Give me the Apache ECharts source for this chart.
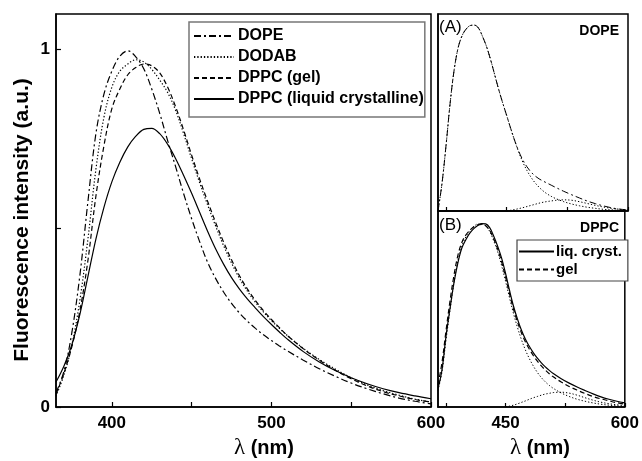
<!DOCTYPE html>
<html>
<head>
<meta charset="utf-8">
<script src="https://cdn.jsdelivr.net/npm/echarts@6/dist/echarts.min.js"></script>
<style>
  html, body { margin: 0; padding: 0; background: #fff; }
  #chart { width: 642px; height: 461px; }
</style>
</head>
<body>
<div id="chart"></div>
<script>
// wavelength grid (nm) shared by every curve
var wl = [365,370,375,380,385,390,395,400,405,410,415,420,425,430,435,440,445,450,455,460,
          465,470,475,480,485,490,495,500,505,510,520,530,540,550,560,570,580,590,600];

// main panel, normalised intensities
var dope  = [0.04,0.10,0.21,0.37,0.575,0.765,0.875,0.94,0.982,0.997,0.98,0.947,0.89,0.822,0.745,0.672,0.597,0.527,0.463,0.405,
             0.36,0.322,0.29,0.263,0.24,0.22,0.202,0.186,0.171,0.157,0.131,0.107,0.086,0.067,0.051,0.037,0.025,0.016,0.009];
var dodab = [0.03,0.09,0.175,0.30,0.47,0.665,0.81,0.895,0.94,0.96,0.972,0.966,0.945,0.915,0.88,0.83,0.765,0.695,0.628,0.566,
             0.507,0.452,0.403,0.36,0.324,0.293,0.266,0.242,0.22,0.2,0.164,0.133,0.106,0.082,0.062,0.046,0.033,0.022,0.014];
var dppcGel = [0.035,0.095,0.17,0.27,0.41,0.59,0.73,0.835,0.89,0.93,0.95,0.96,0.955,0.935,0.895,0.84,0.775,0.705,0.638,0.576,
               0.517,0.462,0.412,0.367,0.33,0.298,0.27,0.245,0.222,0.2,0.163,0.131,0.103,0.079,0.059,0.043,0.031,0.021,0.014];
var dppcLiq = [0.07,0.115,0.175,0.26,0.365,0.47,0.558,0.63,0.685,0.728,0.758,0.777,0.78,0.765,0.735,0.695,0.648,0.598,0.545,0.492,
               0.443,0.4,0.362,0.33,0.302,0.277,0.253,0.231,0.21,0.19,0.155,0.126,0.102,0.082,0.065,0.051,0.04,0.031,0.023];

// panel A (DOPE) : spectrum and two fitted components
var expA  = [0.0,0.15,0.355,0.58,0.76,0.88,0.945,0.98,0.998,1.0,0.985,0.94,0.885,0.815,0.735,0.655,0.582,0.513,0.443,0.377,
             0.32,0.274,0.238,0.21,0.189,0.173,0.161,0.15,0.139,0.128,0.107,0.088,0.07,0.053,0.039,0.027,0.017,0.01,0.006];
var fitA1 = [0.0,0.15,0.355,0.58,0.76,0.88,0.945,0.98,0.998,1.0,0.985,0.94,0.885,0.815,0.735,0.655,0.582,0.513,0.443,0.377,
             0.315,0.262,0.218,0.182,0.152,0.128,0.108,0.092,0.079,0.068,0.051,0.038,0.028,0.02,0.014,0.009,0.006,0.004,0.002];
var fitA2 = [null,null,null,null,null,null,null,null,null,null,null,null,null,null,null,null,null,0,0.004,0.008,
             0.013,0.018,0.024,0.03,0.036,0.042,0.047,0.051,0.054,0.057,0.06,0.058,0.05,0.04,0.03,0.021,0.014,0.009,0.005];

// panel B (DPPC)
var liqB  = [0.10,0.20,0.38,0.53,0.67,0.78,0.86,0.905,0.94,0.965,0.982,0.992,0.99,0.97,0.925,0.87,0.805,0.722,0.63,0.545,
             0.475,0.415,0.367,0.327,0.293,0.264,0.239,0.217,0.198,0.181,0.153,0.129,0.108,0.089,0.071,0.055,0.042,0.031,0.022];
var gelB  = [0.12,0.24,0.41,0.57,0.71,0.82,0.89,0.93,0.955,0.975,0.985,0.988,0.98,0.955,0.91,0.855,0.785,0.702,0.612,0.528,
             0.46,0.4,0.352,0.312,0.278,0.248,0.222,0.2,0.18,0.163,0.135,0.111,0.091,0.073,0.057,0.044,0.033,0.023,0.016];
var fitB1 = [0.09,0.19,0.36,0.52,0.67,0.79,0.87,0.92,0.955,0.975,0.99,0.99,0.98,0.95,0.90,0.84,0.765,0.68,0.59,0.505,
             0.43,0.364,0.308,0.261,0.221,0.187,0.159,0.136,0.117,0.101,0.076,0.057,0.042,0.031,0.022,0.015,0.01,0.006,0.004];
var fitB2 = [null,null,null,null,null,null,null,null,null,null,null,null,null,null,null,null,null,0,0.005,0.01,
             0.017,0.025,0.033,0.042,0.05,0.057,0.064,0.07,0.074,0.078,0.08,0.075,0.064,0.05,0.037,0.026,0.018,0.012,0.008];

var mainTicks = [400,450,500,550,600];
var mainLabels = [400,500,600];
var sideTicks = [375,450,525,600];
var sideLabels = [450,600];
var yTicks = [0,0.5,1];
var yLabels = [0,1];

var font = "'Liberation Sans', Arial, sans-serif";
var serif = "'Liberation Serif', 'DejaVu Serif', serif";

function pts(arr){
    var out = [];
    for (var i = 0; i < wl.length; i++) {
        out.push([wl[i], arr[i] == null ? '-' : arr[i]]);
    }
    return out;
}

function line(name, arr, grid, dash, width){
    return {
        name: name,
        type: 'line',
        xAxisIndex: grid,
        yAxisIndex: grid,
        data: pts(arr),
        symbol: 'none',
        smooth: 0.35,
        silent: true,
        itemStyle: { color: '#000' },
        lineStyle: { color: '#000', width: width || 1.2, type: dash }
    };
}

var axisLine = { lineStyle: { color: '#000', width: 1.5 } };
var lbl = { color: '#000', fontSize: 17, fontWeight: 'bold', fontFamily: font };

var dashDot = [7, 3, 2, 3];
var dotted = [1.3, 2];
var dashed = [5, 3];

var myChart = echarts.init(document.getElementById('chart'));
var option = {
    backgroundColor: '#fff',
    animation: false,
    grid: [
        { left: 56, top: 14, width: 375, height: 393, show: true, borderColor: '#000', borderWidth: 1.5 },
        { left: 438, top: 14, width: 190, height: 197, show: true, borderColor: '#000', borderWidth: 1.5 },
        { left: 438, top: 211, width: 190, height: 196, show: true, borderColor: '#000', borderWidth: 1.5 }
    ],
    xAxis: [
        {
            gridIndex: 0, type: 'value', min: 365, max: 600,
            axisLine: axisLine,
            axisTick: { inside: true, length: 5, customValues: mainTicks, lineStyle: { color: '#000', width: 1.2 } },
            axisLabel: Object.assign({ customValues: mainLabels, margin: 8 }, lbl),
            splitLine: { show: false }
        },
        {
            gridIndex: 1, type: 'value', min: 365, max: 600,
            axisLine: axisLine,
            axisTick: { inside: true, length: 4, customValues: sideTicks, lineStyle: { color: '#000', width: 1.2 } },
            axisLabel: { show: false },
            splitLine: { show: false }
        },
        {
            gridIndex: 2, type: 'value', min: 365, max: 600,
            axisLine: axisLine,
            axisTick: { inside: true, length: 4, customValues: sideTicks, lineStyle: { color: '#000', width: 1.2 } },
            axisLabel: Object.assign({ customValues: sideLabels, margin: 8 }, lbl),
            splitLine: { show: false }
        }
    ],
    yAxis: [
        {
            gridIndex: 0, type: 'value', min: 0, max: 1.1,
            axisLine: axisLine,
            axisTick: { inside: true, length: 5, customValues: yTicks, lineStyle: { color: '#000', width: 1.2 } },
            axisLabel: Object.assign({ customValues: yLabels, margin: 6 }, lbl),
            splitLine: { show: false }
        },
        {
            gridIndex: 1, type: 'value', min: 0, max: 1.06,
            axisLine: axisLine, axisTick: { show: false }, axisLabel: { show: false },
            splitLine: { show: false }
        },
        {
            gridIndex: 2, type: 'value', min: 0, max: 1.06,
            axisLine: axisLine, axisTick: { show: false }, axisLabel: { show: false },
            splitLine: { show: false }
        }
    ],
    legend: [
        {
            data: ['DOPE', 'DODAB', 'DPPC (gel)', 'DPPC (liquid crystalline)'],
            orient: 'vertical',
            left: 189, top: 22,
            padding: [6, 1, 10, 4],
            itemWidth: 40, itemHeight: 16, itemGap: 5,
            borderColor: '#777', borderWidth: 1.5,
            backgroundColor: '#fff',
            selectedMode: false,
            itemStyle: { opacity: 0 },
            textStyle: { color: '#000', fontSize: 16, fontWeight: 'bold', fontFamily: font, lineHeight: 16, padding: [0, 0, 0, -1] }
        },
        {
            data: ['liq. cryst.', 'gel'],
            orient: 'vertical',
            left: 517, top: 240,
            padding: [4, 6, 4, 1],
            itemWidth: 35, itemHeight: 15, itemGap: 3,
            borderColor: '#444', borderWidth: 1.2,
            backgroundColor: '#fff',
            selectedMode: false,
            itemStyle: { opacity: 0 },
            textStyle: { color: '#000', fontSize: 15, fontWeight: 'bold', fontFamily: font, lineHeight: 15, padding: [0, 0, 0, -3] }
        }
    ],
    graphic: [
        { type: 'text', x: 22, y: 220, rotation: Math.PI / 2,
          style: { text: 'Fluorescence intensity (a.u.)', fill: '#000', font: 'bold 21px ' + font, textAlign: 'center', textVerticalAlign: 'middle' } },
        { type: 'text', x: 264, y: 448,
          style: { text: '{l|λ}{t| (nm)}', fill: '#000', textAlign: 'center', textVerticalAlign: 'middle',
                   rich: { l: { font: '23px ' + serif }, t: { font: 'bold 20px ' + font } } } },
        { type: 'text', x: 540, y: 448,
          style: { text: '{l|λ}{t| (nm)}', fill: '#000', textAlign: 'center', textVerticalAlign: 'middle',
                   rich: { l: { font: '23px ' + serif }, t: { font: 'bold 20px ' + font } } } },
        { type: 'text', x: 439, y: 27, style: { text: '(A)', fill: '#000', font: '17px ' + font, textVerticalAlign: 'middle' } },
        { type: 'text', x: 439, y: 225, style: { text: '(B)', fill: '#000', font: '17px ' + font, textVerticalAlign: 'middle' } },
        { type: 'text', x: 619, y: 31, style: { text: 'DOPE', fill: '#000', font: 'bold 14px ' + font, textAlign: 'right', textVerticalAlign: 'middle' } },
        { type: 'text', x: 619, y: 228, style: { text: 'DPPC', fill: '#000', font: 'bold 14px ' + font, textAlign: 'right', textVerticalAlign: 'middle' } }
    ],
    series: [
        line('DOPE', dope, 0, dashDot),
        line('DODAB', dodab, 0, dotted),
        line('DPPC (gel)', dppcGel, 0, dashed),
        line('DPPC (liquid crystalline)', dppcLiq, 0, 'solid'),
        line('DOPE spectrum', expA, 1, dashDot, 1),
        line('DOPE band 1', fitA1, 1, dotted, 1),
        line('DOPE band 2', fitA2, 1, dotted, 1),
        line('liq. cryst.', liqB, 2, 'solid', 1.2),
        line('gel', gelB, 2, dashed, 1.2),
        line('DPPC band 1', fitB1, 2, dotted, 1),
        line('DPPC band 2', fitB2, 2, dotted, 1)
    ]
};
myChart.setOption(option);
</script>
</body>
</html>
